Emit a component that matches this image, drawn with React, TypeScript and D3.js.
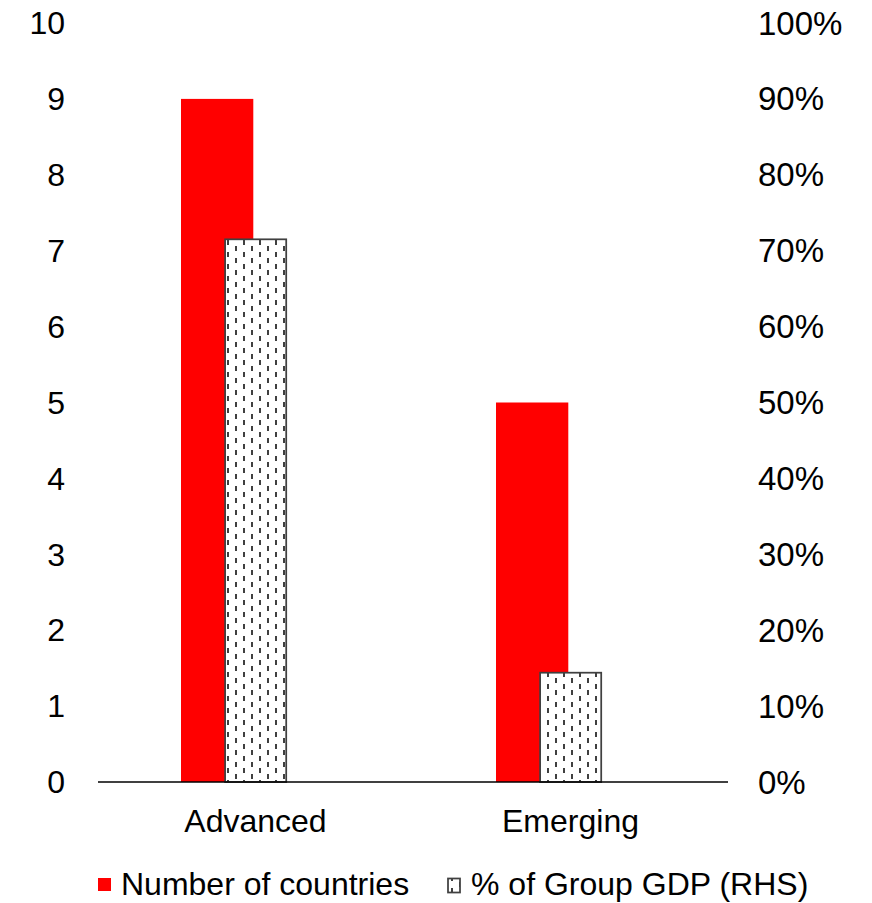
import React from "react";
import * as d3 from "d3";

const categories = ["Advanced", "Emerging"];
const numberOfCountries = [9, 5];
const shareOfGroupGDP = [0.715, 0.144];
const leftTicks = [0, 1, 2, 3, 4, 5, 6, 7, 8, 9, 10];
const rightTicks = [0, 0.1, 0.2, 0.3, 0.4, 0.5, 0.6, 0.7, 0.8, 0.9, 1.0];
const seriesNames = ["Number of countries", "% of Group GDP (RHS)"];

const W = 872;
const H = 903;
const FONT = "'Liberation Sans', Arial, Helvetica, sans-serif";

export default function App() {
  const plotLeft = 98;
  const plotRight = 728;
  const plotTop = 23;
  const plotBottom = 782;

  const x = d3.scaleBand<string>().domain(categories).range([plotLeft, plotRight]).padding(0);
  const yL = d3.scaleLinear().domain([0, 10]).range([plotBottom, plotTop]);
  const yR = d3.scaleLinear().domain([0, 1]).range([plotBottom, plotTop]);
  const bw = x.bandwidth();
  const pct = d3.format(".0%");

  const redOff = bw * 0.2635;
  const redW = bw * 0.2295;
  const hatchOff = bw * 0.4035;
  const hatchW = bw * 0.194;

  return (
    <svg
      width={W}
      height={H}
      style={{ position: "absolute", left: 0, top: 0, background: "#fff" }}
      fontFamily={FONT}
    >
      <defs>
        <pattern id="dashv" patternUnits="userSpaceOnUse" width={16} height={12} x={0} y={0}>
          <rect width={16} height={12} fill="#fff" />
          <rect x={3} y={0} width={2} height={5} fill="#404040" />
          <rect x={11} y={6} width={2} height={5} fill="#404040" />
        </pattern>
      </defs>
      <rect x={0} y={0} width={W} height={H} fill="#fff" />

      {categories.map((c, i) => (
        <rect
          key={"r" + c}
          x={(x(c) as number) + redOff}
          y={yL(numberOfCountries[i])}
          width={redW}
          height={plotBottom - yL(numberOfCountries[i])}
          fill="#ff0000"
        />
      ))}
      {categories.map((c, i) => (
        <rect
          key={"h" + c}
          x={(x(c) as number) + hatchOff}
          y={yR(shareOfGroupGDP[i])}
          width={hatchW}
          height={plotBottom - yR(shareOfGroupGDP[i])}
          fill="url(#dashv)"
          stroke="#404040"
          strokeWidth={1.75}
        />
      ))}

      <line x1={plotLeft} x2={plotRight} y1={plotBottom} y2={plotBottom} stroke="#000" strokeWidth={1.5} />

      {leftTicks.map((t) => (
        <text key={"l" + t} x={65} y={yL(t)} dy="0.35em" textAnchor="end" fontSize={32} fill="#000">
          {t}
        </text>
      ))}
      {rightTicks.map((t) => (
        <text key={"rt" + t} x={758} y={yR(t)} dy="0.35em" textAnchor="start" fontSize={33} fill="#000">
          {pct(t)}
        </text>
      ))}
      {categories.map((c) => (
        <text
          key={"c" + c}
          x={(x(c) as number) + bw / 2}
          y={832}
          textAnchor="middle"
          fontSize={32}
          fill="#000"
        >
          {c}
        </text>
      ))}

      <rect x={98} y={878} width={13} height={13} fill="#ff0000" />
      <text x={121} y={895} fontSize={32} fill="#000">
        {seriesNames[0]}
      </text>
      <rect x={448} y={878.5} width={12} height={14} fill="url(#dashv)" stroke="#404040" strokeWidth={1.75} />
      <text x={471} y={895} fontSize={32} fill="#000">
        {seriesNames[1]}
      </text>
    </svg>
  );
}
